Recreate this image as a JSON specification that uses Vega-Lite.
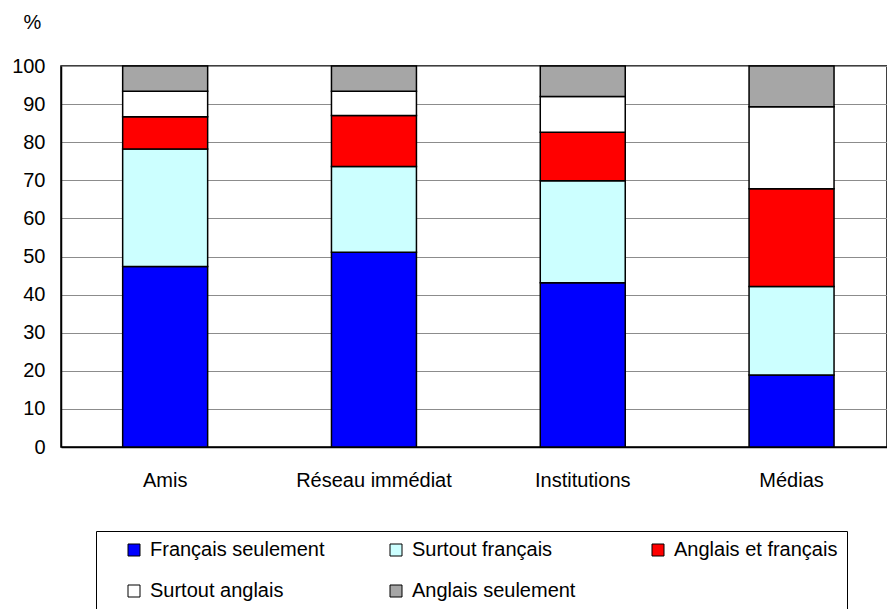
{
  "$schema": "https://vega.github.io/schema/vega-lite/v6.json",
  "autosize": "none",
  "width": 826,
  "height": 381,
  "padding": {"left": 61, "top": 66, "right": 0, "bottom": 162},
  "background": "white",
  "config": {
    "font": "Liberation Sans",
    "view": {"stroke": "black", "strokeWidth": 1.5}
  },
  "data": {
    "values": [
      {"source": "Amis", "k": 1, "type": "Français seulement", "pct": 47.4},
      {"source": "Amis", "k": 2, "type": "Surtout français", "pct": 30.8},
      {"source": "Amis", "k": 3, "type": "Anglais et français", "pct": 8.5},
      {"source": "Amis", "k": 4, "type": "Surtout anglais", "pct": 6.7},
      {"source": "Amis", "k": 5, "type": "Anglais seulement", "pct": 6.6},
      {"source": "Réseau immédiat", "k": 1, "type": "Français seulement", "pct": 51.1},
      {"source": "Réseau immédiat", "k": 2, "type": "Surtout français", "pct": 22.5},
      {"source": "Réseau immédiat", "k": 3, "type": "Anglais et français", "pct": 13.4},
      {"source": "Réseau immédiat", "k": 4, "type": "Surtout anglais", "pct": 6.4},
      {"source": "Réseau immédiat", "k": 5, "type": "Anglais seulement", "pct": 6.6},
      {"source": "Institutions", "k": 1, "type": "Français seulement", "pct": 43.1},
      {"source": "Institutions", "k": 2, "type": "Surtout français", "pct": 26.8},
      {"source": "Institutions", "k": 3, "type": "Anglais et français", "pct": 12.7},
      {"source": "Institutions", "k": 4, "type": "Surtout anglais", "pct": 9.4},
      {"source": "Institutions", "k": 5, "type": "Anglais seulement", "pct": 8.0},
      {"source": "Médias", "k": 1, "type": "Français seulement", "pct": 18.9},
      {"source": "Médias", "k": 2, "type": "Surtout français", "pct": 23.2},
      {"source": "Médias", "k": 3, "type": "Anglais et français", "pct": 25.7},
      {"source": "Médias", "k": 4, "type": "Surtout anglais", "pct": 21.5},
      {"source": "Médias", "k": 5, "type": "Anglais seulement", "pct": 10.7}
    ]
  },
  "mark": {"type": "bar", "stroke": "black", "strokeWidth": 1.5},
  "encoding": {
    "x": {
      "field": "source",
      "type": "nominal",
      "sort": ["Amis", "Réseau immédiat", "Institutions", "Médias"],
      "scale": {"paddingInner": 0.593, "paddingOuter": 0.2745, "align": 0.538},
      "axis": {
        "title": null,
        "labelAngle": 0,
        "labelFontSize": 20,
        "labelColor": "black",
        "labelPadding": 23,
        "ticks": false,
        "domainColor": "black",
        "domainWidth": 1.5
      }
    },
    "y": {
      "field": "pct",
      "type": "quantitative",
      "stack": "zero",
      "scale": {"domain": [0, 100], "nice": false},
      "axis": {
        "values": [0, 10, 20, 30, 40, 50, 60, 70, 80, 90, 100],
        "title": "%",
        "titleAngle": 0,
        "titleX": -38,
        "titleY": -44,
        "titleAlign": "left",
        "titleBaseline": "middle",
        "titleFontSize": 20,
        "titleFontWeight": "normal",
        "titleColor": "black",
        "labelFontSize": 20,
        "labelColor": "black",
        "labelPadding": 16,
        "ticks": false,
        "grid": true,
        "gridColor": "#8c8c8c",
        "gridWidth": 1,
        "domainColor": "black",
        "domainWidth": 1.5
      }
    },
    "order": {"field": "k", "type": "quantitative", "sort": "ascending"},
    "color": {
      "field": "type",
      "type": "nominal",
      "scale": {
        "domain": ["Français seulement", "Surtout français", "Anglais et français", "Surtout anglais", "Anglais seulement"],
        "range": ["#0000ff", "#ccffff", "#ff0000", "#ffffff", "#a6a6a6"]
      },
      "legend": {
        "title": null,
        "orient": "none",
        "legendX": 35,
        "legendY": 465,
        "direction": "horizontal",
        "columns": 3,
        "gridAlign": "all",
        "columnPadding": 42,
        "rowPadding": 21,
        "padding": 9,
        "symbolOffset": 19,
        "strokeColor": "black",
        "fillColor": "white",
        "symbolType": "square",
        "symbolSize": 144,
        "symbolStrokeColor": "black",
        "symbolStrokeWidth": 1,
        "symbolOpacity": 1,
        "labelFontSize": 20,
        "labelColor": "black",
        "labelOffset": 6,
        "labelLimit": 300
      }
    }
  }
}
